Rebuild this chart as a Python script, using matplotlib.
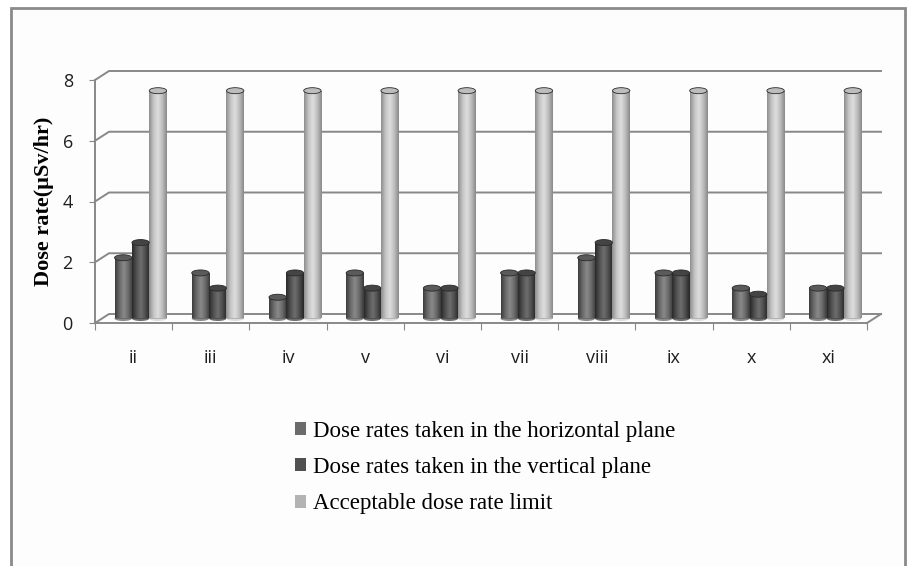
import matplotlib
matplotlib.use('Agg')
import matplotlib.pyplot as plt
import numpy as np
from matplotlib.patches import Rectangle, Ellipse, Patch
from matplotlib.colors import LinearSegmentedColormap

categories = ['ii', 'iii', 'iv', 'v', 'vi', 'vii', 'viii', 'ix', 'x', 'xi']
horizontal = [2.0, 1.5, 0.7, 1.5, 1.0, 1.5, 2.0, 1.5, 1.0, 1.0]
vertical = [2.5, 1.0, 1.5, 1.0, 1.0, 1.5, 2.5, 1.5, 0.8, 1.0]
limit = [7.5] * 10
series_names = ['Dose rates taken in the horizontal plane',
                'Dose rates taken in the vertical plane',
                'Acceptable dose rate limit']
yticks = [0, 2, 4, 6, 8]

W, H = 912, 566
fig = plt.figure(figsize=(W / 100, H / 100), dpi=100)

# outer frame
fig.patches.append(Rectangle((11 / W, -0.05), 894 / W, 1.05 - 8 / H, transform=fig.transFigure,
                             facecolor='#fdfdfd', edgecolor='#8a8a8a', lw=2, zorder=-5))

# front axis: x 95..867 px, y 0 -> 323 px, 8 -> 80 px
ax = fig.add_axes([95 / W, (H - 323) / H, 772 / W, 243 / H])
ax.set_xlim(0, 10)
ax.set_ylim(0, 8)
ax.patch.set_alpha(0)
px_x = 10 / 772.0
px_y = 8 / 243.0
dx, dy = 14 * px_x, 9 * px_y  # depth of the 3d box

gcol = '#888888'
for v in yticks:
    ax.plot([0, dx, 10 + dx], [v, v + dy, v + dy], color=gcol, lw=1.4, clip_on=False, zorder=1)
ax.plot([10, 10 + dx], [0, dy], color=gcol, lw=1.4, clip_on=False, zorder=1)

for s in ['top', 'right']:
    ax.spines[s].set_visible(False)
for s in ['left', 'bottom']:
    ax.spines[s].set_color(gcol)
    ax.spines[s].set_linewidth(1.4)

ax.set_yticks(yticks)
ax.set_yticklabels([str(v) for v in yticks], fontfamily='Open Sans', fontsize=13, color='#1e1e1e')
ax.tick_params(axis='y', length=4, color=gcol, pad=12)
ax.set_xticks(np.arange(0, 11))
ax.set_xticklabels([])
ax.tick_params(axis='x', which='major', length=5, color=gcol)
ax.set_xticks(np.arange(10) + 0.5, minor=True)
ax.set_xticklabels(categories, minor=True, fontfamily='Open Sans', fontsize=13, color='#1e1e1e')
ax.tick_params(axis='x', which='minor', length=0, pad=19)

ax.set_ylabel('Dose rate(µSv/hr)', fontfamily='Liberation Serif', fontweight='bold', fontsize=16,
              labelpad=6)

cmaps = [
    LinearSegmentedColormap.from_list('h', ['#3c3c3c', '#6a6a6a', '#8a8a8a', '#6a6a6a', '#3a3a3a']),
    LinearSegmentedColormap.from_list('v', ['#2a2a2a', '#515151', '#6e6e6e', '#4e4e4e', '#262626']),
    LinearSegmentedColormap.from_list('l', ['#8e8e8e', '#c4c4c4', '#dedede', '#bdbdbd', '#8a8a8a']),
]
cap_cols = ['#5a5a5a', '#444444', '#bdbdbd']
solid = ['#6b6b6b', '#505050', '#b3b3b3']

bw = 0.225
grad = np.linspace(0, 1, 64).reshape(1, -1)
for k, vals in enumerate([horizontal, vertical, limit]):
    for i, v in enumerate(vals):
        xc = i + 0.5 + dx / 2 + (k - 1) * bw
        base = dy / 2
        bar = ax.bar(xc, v, width=bw, bottom=base, color=solid[k], edgecolor='none', zorder=3)[0]
        im = ax.imshow(grad, cmap=cmaps[k], extent=[xc - bw / 2, xc + bw / 2, base, base + v],
                       aspect='auto', zorder=3.1, interpolation='bilinear')
        im.set_clip_path(bar)
        ax.add_patch(Ellipse((xc, base), bw, 5 * px_y, facecolor=cmaps[k](0.5), edgecolor='none', zorder=2.9))
        ax.add_patch(Ellipse((xc, base + v), bw, 6 * px_y, facecolor=cap_cols[k],
                             edgecolor='#2a2a2a', lw=0.6, zorder=3.2))

ax.set_xlim(0, 10)
ax.set_ylim(0, 8)

handles = [Patch(facecolor=c, edgecolor='none') for c in solid]
fig.legend(handles, series_names, loc='upper left', bbox_to_anchor=(274 / W, 1 - 400 / H),
           frameon=False, handlelength=0.5, handleheight=0.5, handletextpad=0.3,
           labelspacing=0.67, prop={'family': 'Liberation Serif', 'size': 16.5})

fig.savefig('out.png', dpi=100)
